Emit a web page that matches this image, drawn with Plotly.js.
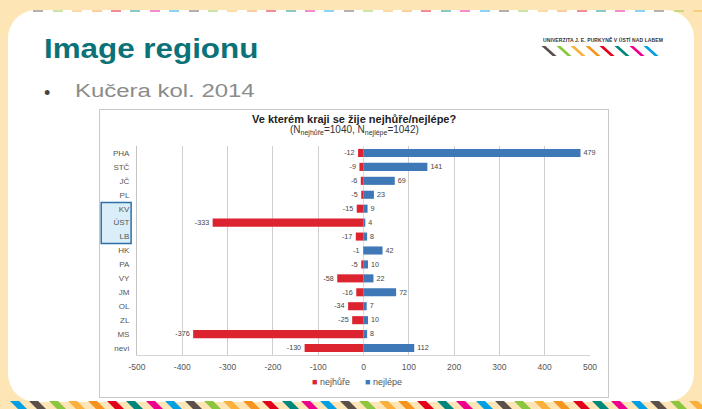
<!DOCTYPE html>
<html>
<head>
<meta charset="utf-8">
<script src="https://cdn.plot.ly/plotly-3.0.1.min.js"></script>
<style>
  html, body { margin:0; padding:0; }
  body { width:702px; height:409px; overflow:hidden; background:#fee5b6; position:relative; font-family:"Liberation Sans", Arial, sans-serif; }
  #card { position:absolute; left:8px; top:10px; width:686px; height:392px; background:#ffffff; border-radius:28px; }
  #title { position:absolute; left:44px; top:33px; font-size:28px; font-weight:bold; color:#0b7277; transform:scaleX(1.12); transform-origin:left top; white-space:nowrap; }
  #dot { position:absolute; left:44px; top:83px; font-size:18px; color:#444; }
  #bullet { position:absolute; left:75px; top:81px; font-size:18px; color:#8c8c8c; transform:scaleX(1.33); transform-origin:left top; white-space:nowrap; }
  #logoText { position:absolute; left:543px; top:37px; font-size:5px; font-weight:bold; color:#333; letter-spacing:0.1px; white-space:nowrap; }
  .lg { position:absolute; top:46px; width:4px; height:10px; transform:skewX(48deg); }
  .bs { position:absolute; top:401px; width:9px; height:8px; transform:skewX(45deg); }
  .ts { position:absolute; top:10px; width:10px; height:2px; opacity:0.45; }
  #frame { position:absolute; left:99px; top:109px; width:508px; height:287px; border:1px solid #c9c9c9; background:#fff; }
  #chart { width:508px; height:287px; }
</style>
</head>
<body>
<div id="card"></div>
<div id="deco"></div>
<div id="title">Image regionu</div>
<div id="dot">•</div>
<div id="bullet">Kučera kol. 2014</div>
<div id="logoText">UNIVERZITA J. E. PURKYNĚ V ÚSTÍ NAD LABEM</div>
<div id="frame"><div id="chart"></div></div>
<script>
// ---- data ----
const regions = ["PHA","STČ","JČ","PL","KV","ÚST","LB","HK","PA","VY","JM","OL","ZL","MS","neví"];
const worst = [-12,-9,-6,-5,-15,-333,-17,-1,-5,-58,-16,-34,-25,-376,-130];
const best  = [479,141,69,23,9,4,8,42,10,22,72,7,10,8,112];
const seriesNames = ["nejhůře","nejlépe"];
const seriesColors = ["#dc2430","#3f78b6"];
const xTickVals = [-500,-400,-300,-200,-100,0,100,200,300,400,500];
const xTickText = ["-500","-400","-300","-200","-100","0","100","200","300","400","500"];

// ---- decoration ----
const palette = ["#5a4f49","#8cc63e","#fbb03b","#f7941d","#e2001a","#00877c","#ec008c","#00a0e3"];
const deco = document.getElementById('deco');
palette.forEach((c,i)=>{
  const d=document.createElement('div'); d.className='lg';
  d.style.left=(547+i*14.6)+'px'; d.style.background=c; deco.appendChild(d);
});
for(let i=0;i<37;i++){
  const d=document.createElement('div'); d.className='bs';
  d.style.left=(14+i*19.4)+'px'; d.style.background=palette[(i+7)%8]; deco.appendChild(d);
  if(i>0 && i<36){
    const t=document.createElement('div'); t.className='ts';
    t.style.left=(14+i*19.4)+'px'; t.style.background=palette[(i+7)%8]; deco.appendChild(t);
  }
}

// ---- chart ----
const fnt = {family:'"Liberation Sans", Arial, sans-serif', size:8, color:'#444'};
const traces = [
  {type:'bar', orientation:'h', name:seriesNames[0], y:regions, x:worst,
   marker:{color:seriesColors[0]}, text:worst.map(String), textposition:'outside',
   textfont:{size:8,color:'#444'}, cliponaxis:false},
  {type:'bar', orientation:'h', name:seriesNames[1], y:regions, x:best,
   marker:{color:seriesColors[1]}, text:best.map(String), textposition:'outside',
   textfont:{size:8,color:'#444'}, cliponaxis:false}
];
const legendText = seriesNames.map((n,i)=>'<span style="color:'+seriesColors[i]+'">■</span> '+n).join('      ');
const layout = {
  width:508, height:287,
  margin:{l:37, r:18, t:36, b:42},
  paper_bgcolor:'#ffffff', plot_bgcolor:'#ffffff',
  font:fnt,
  barmode:'relative', bargap:0.42,
  showlegend:false,
  xaxis:{range:[-500,500], tickvals:xTickVals, ticktext:xTickText, showgrid:true, gridcolor:'#cfcfcf',
         gridwidth:1, zeroline:true, zerolinecolor:'#dcdcdc', showline:true, linecolor:'#d5d5d5',
         tickfont:{size:8.5,color:'#555'}, ticks:'outside', ticklen:4, tickcolor:'rgba(0,0,0,0)', fixedrange:true},
  yaxis:{autorange:'reversed', showgrid:false, showline:true, linecolor:'#c4c4c4', linewidth:1,
         tickfont:{size:8,color:'#555'}, ticklabelstandoff:5, fixedrange:true},
  annotations:[
    {text:'<b>Ve kterém kraji se žije nejhůře/nejlépe?</b>', xref:'paper', yref:'paper', x:0.48, y:1.129,
     xanchor:'center', yanchor:'middle', showarrow:false, font:{size:11,color:'#222'}},
    {text:'(N<sub>nejhůře</sub>=1040, N<sub>nejlépe</sub>=1042)', xref:'paper', yref:'paper', x:0.48, y:1.072,
     xanchor:'center', yanchor:'middle', showarrow:false, font:{size:10,color:'#333'}},
    {text:legendText, xref:'paper', yref:'paper', x:0.485, y:-0.13, xanchor:'center', yanchor:'middle',
     showarrow:false, font:{size:9,color:'#555'}}
  ],
  shapes:[{type:'rect', xref:'paper', yref:'y', x0:-0.079, x1:-0.013, y0:3.55, y1:6.5,
           fillcolor:'#d9eef8', line:{color:'#2f6fa6', width:1.5}, layer:'below'}]
};
Plotly.newPlot('chart', traces, layout, {displayModeBar:false, staticPlot:true});
</script>
</body>
</html>
